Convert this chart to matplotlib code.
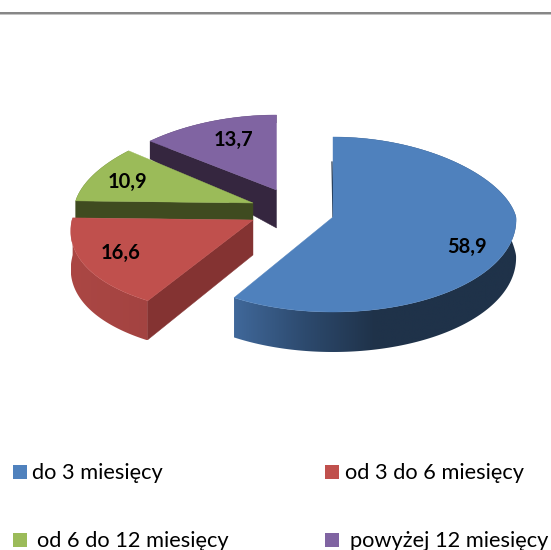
import numpy as np
import matplotlib
matplotlib.use("Agg")
import matplotlib.pyplot as plt
from matplotlib.colors import LinearSegmentedColormap
from matplotlib.patches import Polygon, Rectangle

# data
categories = ["do 3 miesięcy", "od 3 do 6 miesięcy", "od 6 do 12 miesięcy", "powyżej 12 miesięcy"]
values = [58.9, 16.6, 10.9, 13.7]
value_labels = ["58,9", "16,6", "10,9", "13,7"]

# style / layout
top_colors = ["#4f81bd", "#c0504d", "#9bbb59", "#8064a2"]
wall_colors = [None, "#843332", "#3f4b20", "#35263f"]
rim_stops = [["#40689a", "#2d4a6e", "#1f3249", "#1f3249", "#1f3249"],
             ["#ab4744", "#a34341"],
             ["#3f4b20", "#3f4b20"],
             ["#35263f", "#35263f"]]
apexes = [(333, 217), (253, 220), (253, 203), (276.5, 190)]
radii_x = [183, 181, 178, 181]
radii_back = [80, 80, 80, 75]
front_skew = [0.03, 0.12, 0.05, 0.05]
wall_depth_corner = [0, 39, 17, 18]
wall_depth_apex = [0, 35, 17, 38]
label_pos = [(467.5, 247), (121, 253), (127, 182), (233, 140)]
legend_sq = [(13, 465), (325, 465), (13, 533), (325, 533)]
legend_tx = [(32, 479), (345, 479), (37, 547), (350, 547)]
RY_FRONT = 95

plt.rcParams["font.family"] = ["Lato", "DejaVu Sans"]
fig = plt.figure(figsize=(5.51, 5.50), dpi=100, facecolor="white")
ax = fig.add_axes([0, 0, 1, 1])
ax.set_xlim(0, 551)
ax.set_ylim(550, 0)
ax.axis("off")

ax.add_patch(Rectangle((0, 11.5), 551, 2, fc="#878787", ec="none"))
ax.add_patch(Rectangle((0, 13.5), 551, 1, fc="#c4c4c4", ec="none"))


def project(i, theta):
    u, v = np.sin(theta), np.cos(theta)
    sx = np.where(v > 0, 1 - 0.12 * v, 1 + front_skew[i] * np.abs(v))
    ry = np.where(v > 0, radii_back[i], RY_FRONT)
    return apexes[i][0] + radii_x[i] * u * sx, apexes[i][1] - v * ry


def depth(theta):
    v = np.cos(theta)
    return np.where(v > 0, 38 - 30 * v, 38 + 2 * np.abs(v))


edges = 2 * np.pi * np.concatenate([[0], np.cumsum(values)]) / sum(values)

for i in [3, 2, 1, 0]:
    apex = apexes[i]
    z = (3 - i) * 2 + 1
    th = np.linspace(edges[i], edges[i + 1], 200)
    x, y = project(i, th)
    d = depth(th)

    # outer rim with a horizontal gradient
    rim = Polygon(np.column_stack([np.r_[x, x[::-1]], np.r_[y, (y + d)[::-1]]]),
                  fc="none", ec="none", transform=ax.transData)
    ax.add_patch(rim)
    cmap = LinearSegmentedColormap.from_list("rim", rim_stops[i])
    im = ax.imshow(np.linspace(0, 1, 256)[None, :], cmap=cmap, aspect="auto",
                   extent=(x.min(), x.max(), (y + d).max(), y.min()), zorder=z)
    im.set_clip_path(rim)
    ax.set_xlim(0, 551)
    ax.set_ylim(550, 0)

    # straight wall facing the viewer
    if wall_colors[i]:
        ax.add_patch(Polygon([apex, (x[0], y[0]), (x[0], y[0] + wall_depth_corner[i]),
                              (apex[0], apex[1] + wall_depth_apex[i])],
                             fc=wall_colors[i], ec=wall_colors[i], lw=0.3, zorder=z + 0.3))
    else:
        ax.plot([x[0] - 1, apex[0]], [y[0] + 25, apex[1]], color="#1f3249", lw=0.9, zorder=z + 0.1)

    # top face
    ax.add_patch(Polygon(np.column_stack([np.r_[apex[0], x], np.r_[apex[1], y]]),
                         fc=top_colors[i], ec=top_colors[i], lw=0.3, zorder=z + 0.6))
    ax.text(*label_pos[i], value_labels[i], ha="center", va="center",
            fontsize=14.5, fontweight="bold", color="black", zorder=20)

for i, cat in enumerate(categories):
    ax.add_patch(Rectangle(legend_sq[i], 14, 14, fc=top_colors[i], ec="none"))
    ax.text(*legend_tx[i], cat, ha="left", va="baseline", fontsize=15.7, color="black")

fig.savefig("out.png", dpi=100)
